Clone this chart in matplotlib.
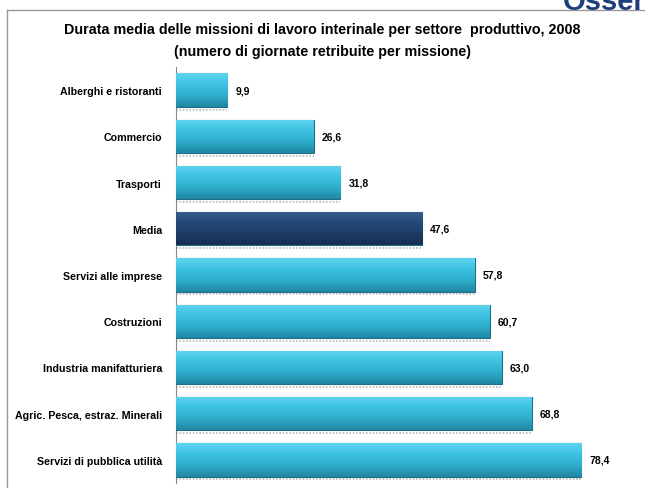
import numpy as np
import matplotlib
matplotlib.use("Agg")
import matplotlib.pyplot as plt
from matplotlib.colors import LinearSegmentedColormap

plt.rcParams['font.family'] = ['Liberation Sans', 'DejaVu Sans']

settori = ["Alberghi e ristoranti", "Commercio", "Trasporti", "Media",
           "Servizi alle imprese", "Costruzioni", "Industria manifatturiera",
           "Agric. Pesca, estraz. Minerali", "Servizi di pubblica utilità"]
giornate = [9.9, 26.6, 31.8, 47.6, 57.8, 60.7, 63.0, 68.8, 78.4]
etichette = ["9,9", "26,6", "31,8", "47,6", "57,8", "60,7", "63,0", "68,8", "78,4"]

fig = plt.figure(figsize=(6.45, 4.89), dpi=100)
ax = fig.add_axes([176/645, 1 - 484/489, 444/645, 416/489])

y = np.arange(len(settori))
colori = ["#1e3f6b" if s == "Media" else "#31b4d6" for s in settori]
bars = ax.barh(y, giornate, height=0.72, color=colori, edgecolor="#1d6f86", linewidth=0.8, zorder=3)

# sfumatura sulle barre
cm_chiaro = LinearSegmentedColormap.from_list("c", ["#5fd3ee", "#3cc2e3", "#2eacca", "#1f87a3"])
cm_scuro = LinearSegmentedColormap.from_list("s", ["#3a5f8f", "#234a7a", "#1d3c66", "#162f52"])
grad = np.linspace(0, 1, 64).reshape(-1, 1)
for b, s in zip(bars, settori):
    x0, y0 = b.get_x(), b.get_y()
    w, h = b.get_width(), b.get_height()
    im = ax.imshow(grad, aspect="auto", cmap=cm_scuro if s == "Media" else cm_chiaro,
                   extent=[x0, x0 + w, y0 + h, y0], zorder=4, origin="upper")
    im.set_clip_path(b)
    # ombra sotto la barra
    ax.plot([x0, x0 + w], [y0 + h + 0.06, y0 + h + 0.06], color="#bbbbbb", lw=1.2,
            ls=(0, (1, 1)), zorder=2)

for yi, v, t in zip(y, giornate, etichette):
    ax.text(v + 1.6, yi, t, va="center", ha="left", fontsize=7.5, fontweight="bold")

ax.set_xlim(0, 444 / 5.17)
ax.set_ylim(len(settori) - 0.5, -0.5)
ax.set_yticks(y)
ax.set_yticklabels(settori, fontsize=7.7, fontweight="bold")
ax.tick_params(axis="y", length=0, pad=10)
ax.set_xticks([])
for sp in ["top", "right", "bottom"]:
    ax.spines[sp].set_visible(False)
ax.spines["left"].set_color("#888888")

fig.text(0.5, 1 - 30/489, "Durata media delle missioni di lavoro interinale per settore  produttivo, 2008",
         ha="center", va="center", fontsize=10.3, fontweight="bold")
fig.text(0.5, 1 - 52/489, "(numero di giornate retribuite per missione)",
         ha="center", va="center", fontsize=10.3, fontweight="bold")

# cornice
fig.add_artist(plt.Line2D([7/645, 645/645], [1 - 11/489, 1 - 11/489], color="#999999", lw=1))
fig.add_artist(plt.Line2D([7/645, 7/645], [1 - 11/489, 0], color="#999999", lw=1))
fig.text(563/645, 1 - 10/489, "Osserv", ha="left", va="baseline", fontsize=21, fontweight="bold", color="#1f3d7a")

fig.savefig("out.png", dpi=100)
